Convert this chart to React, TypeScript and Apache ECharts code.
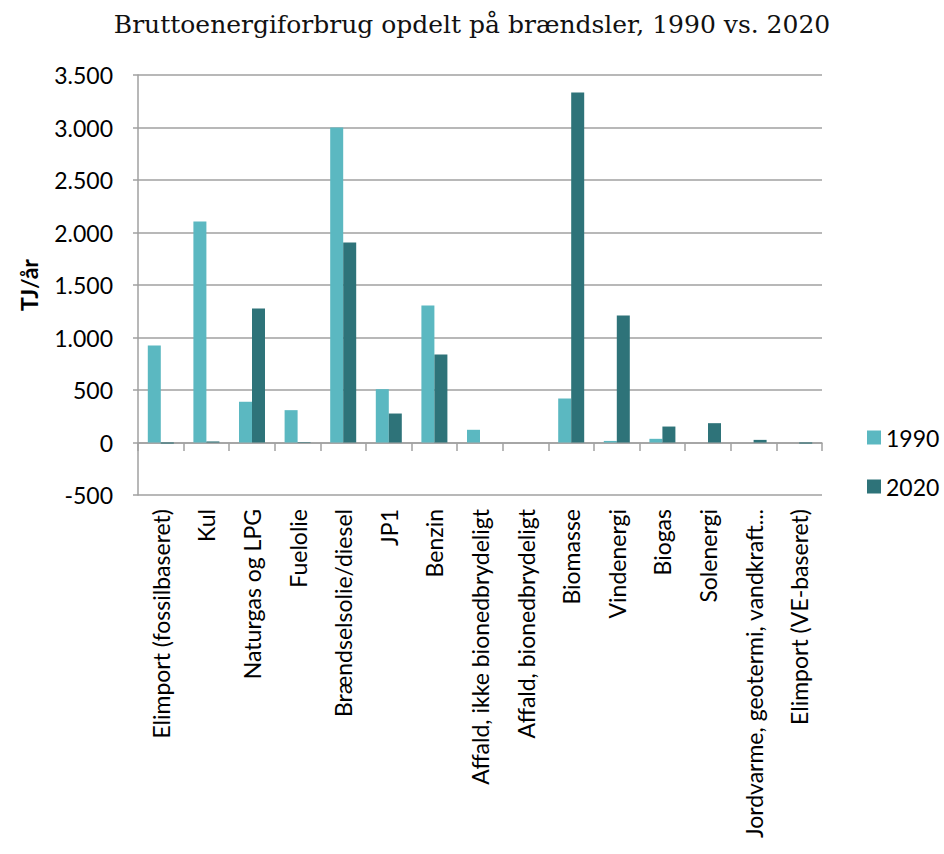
import React, { useEffect, useRef } from "react";
import * as echarts from "echarts";

const categories = [
  "Elimport (fossilbaseret)",
  "Kul",
  "Naturgas og LPG",
  "Fuelolie",
  "Brændselsolie/diesel",
  "JP1",
  "Benzin",
  "Affald, ikke bionedbrydeligt",
  "Affald, bionedbrydeligt",
  "Biomasse",
  "Vindenergi",
  "Biogas",
  "Solenergi",
  "Jordvarme, geotermi, vandkraft...",
  "Elimport (VE-baseret)",
];

const values1990 = [925, 2105, 388, 308, 3000, 508, 1305, 121, 0, 419, 15, 35, 0, 0, 0];
const values2020 = [-10, 10, 1276, 5, 1905, 276, 838, 0, 0, 3333, 1210, 152, 184, 25, -10];

const yTicks = { min: -500, max: 3500, interval: 500 };

const LABEL_FONT = "Lato, 'Open Sans', sans-serif";
const GRAY = "#a0a0a0";

export default function App() {
  const ref = useRef<HTMLDivElement>(null);
  useEffect(() => {
    if (!ref.current) return;
    const chart = echarts.init(ref.current, null, { renderer: "svg" });
    const fmt = (v: number) => {
      const s = Math.abs(v).toString().replace(/\B(?=(\d{3})+(?!\d))/g, ".");
      return (v < 0 ? "-" : "") + s;
    };
    chart.setOption({
      animation: false,
      backgroundColor: "#ffffff",
      title: {
        text: "Bruttoenergiforbrug opdelt på brændsler, 1990 vs. 2020",
        left: "center",
        top: 7,
        textStyle: {
          fontFamily: "'DejaVu Serif', serif",
          fontWeight: "normal",
          fontSize: 25,
          color: "#111111",
        },
      },
      legend: {
        orient: "vertical",
        left: 862,
        top: 421,
        itemWidth: 14,
        itemHeight: 14,
        itemGap: 26,
        icon: "rect",
        textStyle: { fontFamily: LABEL_FONT, fontSize: 23, color: "#000" },
        data: ["1990", "2020"],
      },
      grid: { left: 138, right: 122, top: 75, bottom: 359, containLabel: false },
      xAxis: [
        {
          type: "category",
          data: categories,
          position: "bottom",
          axisLine: { show: false, onZero: false },
          axisTick: { show: false },
          axisLabel: {
            rotate: 90,
            margin: 14,
            interval: 0,
            fontFamily: LABEL_FONT,
            fontSize: 23,
            color: "#000",
          },
        },
        {
          type: "category",
          data: categories,
          position: "bottom",
          offset: -52,
          axisLine: { show: true, onZero: false, lineStyle: { color: GRAY, width: 1.5 } },
          axisTick: { show: true, interval: 0, length: 8, lineStyle: { color: GRAY, width: 1.5 } },
          axisLabel: { show: false },
        },
      ],
      yAxis: {
        type: "value",
        min: yTicks.min,
        max: yTicks.max,
        interval: yTicks.interval,
        name: "TJ/år",
        nameLocation: "middle",
        nameGap: 98,
        nameTextStyle: { fontFamily: LABEL_FONT, fontSize: 23, fontWeight: "bold", color: "#000" },
        axisLine: { show: true, lineStyle: { color: GRAY, width: 1.5 } },
        axisTick: { show: true, length: 5, lineStyle: { color: GRAY, width: 1.5 } },
        axisLabel: {
          margin: 25,
          fontFamily: LABEL_FONT,
          fontSize: 23,
          color: "#000",
          formatter: fmt,
        },
        splitLine: { show: true, lineStyle: { color: GRAY, width: 1.5 } },
      },
      series: [
        {
          name: "1990",
          type: "bar",
          data: values1990,
          barWidth: 13,
          barGap: "0%",
          itemStyle: { color: "#5bb8c1" },
        },
        {
          name: "2020",
          type: "bar",
          data: values2020,
          barWidth: 13,
          barGap: "0%",
          itemStyle: { color: "#2e7379" },
        },
      ],
    });
    return () => chart.dispose();
  }, []);
  return (
    <div
      ref={ref}
      style={{ position: "absolute", left: 0, top: 0, width: 944, height: 854 }}
    />
  );
}
